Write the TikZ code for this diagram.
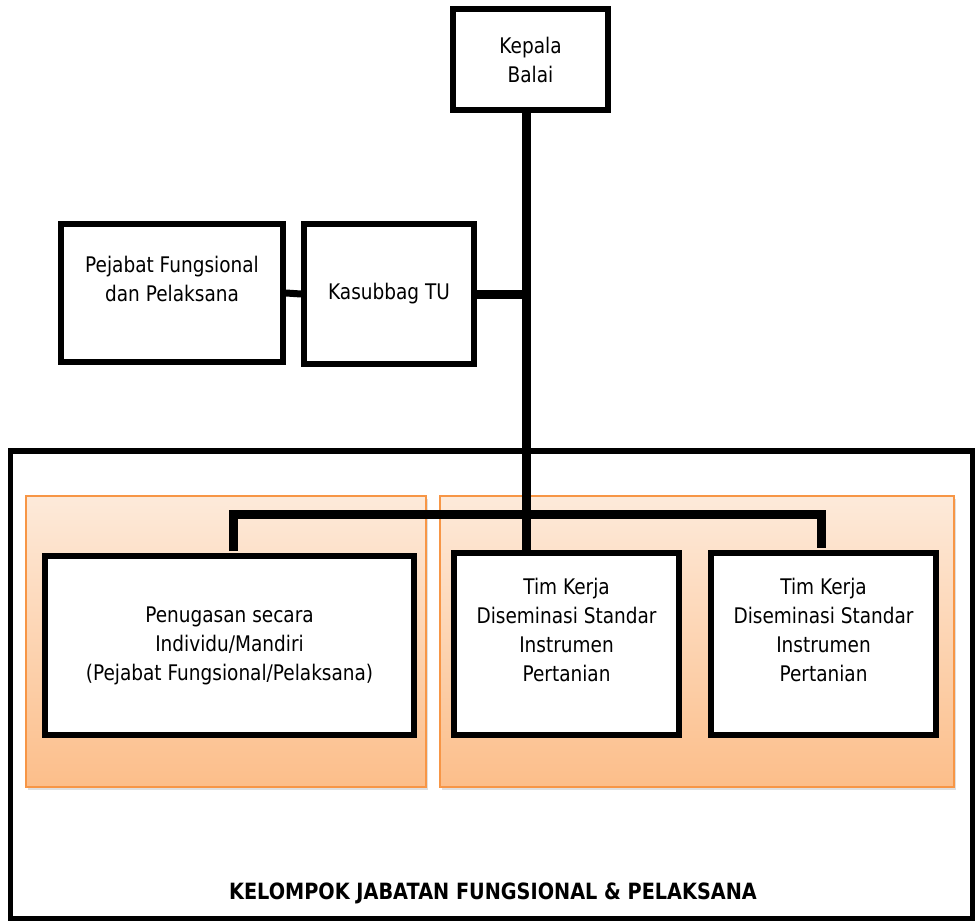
\documentclass[tikz,border=0pt]{standalone}
\usepackage{fontspec}
\setmainfont{DejaVu Sans}[FakeStretch=0.86]
\usetikzlibrary{shadows}
\definecolor{panelTop}{RGB}{253,234,218}
\definecolor{panelBot}{RGB}{252,190,138}
\definecolor{panelLine}{RGB}{247,150,70}
\tikzset{
  orgbox/.style={draw=black, line width=6pt, fill=white, rectangle, inner sep=0pt,
    drop shadow={shadow xshift=2pt, shadow yshift=-2pt, opacity=0.18}},
  boxtext/.style={align=center, inner sep=0pt, font=\fontsize{21.5}{29}\selectfont},
  panel/.style={draw=panelLine, line width=1.5pt, top color=panelTop, bottom color=panelBot,
    rectangle, inner sep=0pt,
    drop shadow={shadow xshift=2pt, shadow yshift=-3pt, opacity=0.25}},
  conn/.style={line width=9pt, line join=miter},
  thinconn/.style={line width=7pt}
}
\begin{document}
\begin{tikzpicture}[x=1pt,y=-1pt]
\useasboundingbox (0,0) rectangle (976,920);
% outer frame
\node[draw=black, line width=5.5pt, rectangle, inner sep=0pt, minimum width=962pt, minimum height=468pt] (frame) at (491.5,685) {};
% panels
\node[panel, minimum width=400pt, minimum height=291pt] (panelA) at (226,641.5) {};
\node[panel, minimum width=514pt, minimum height=291pt] (panelB) at (697,641.5) {};
% boxes
\node[orgbox, minimum width=155pt, minimum height=101pt] (kepala) at (530.5,59.5) {};
\node[boxtext] (kepalaT) at (530.5,59.5) {Kepala\\Balai};
\node[orgbox, minimum width=222pt, minimum height=138pt] (pej) at (172,293) {};
\node[boxtext] (pejT) at (172,279) {Pejabat Fungsional\\dan Pelaksana};
\node[orgbox, minimum width=170pt, minimum height=140pt] (kasub) at (389,294) {};
\node[boxtext] (kasubT) at (389,294) {Kasubbag TU};
\node[orgbox, minimum width=369pt, minimum height=179pt] (pen) at (229.5,645.5) {};
\node[boxtext] (penT) at (229.5,645.5) {Penugasan secara\\Individu/Mandiri\\(Pejabat Fungsional/Pelaksana)};
\node[orgbox, minimum width=225pt, minimum height=182pt] (tim1) at (566.5,644) {};
\node[boxtext] (tim1T) at (566.5,630) {Tim Kerja\\Diseminasi Standar\\Instrumen\\Pertanian};
\node[orgbox, minimum width=225pt, minimum height=182pt] (tim2) at (823.5,644) {};
\node[boxtext] (tim2T) at (823.5,630) {Tim Kerja\\Diseminasi Standar\\Instrumen\\Pertanian};
% title
\node[inner sep=0pt, font=\fontsize{22.4}{26}\selectfont\bfseries] (title) at (493,893) {KELOMPOK JABATAN FUNGSIONAL \& PELAKSANA};
% connectors
\coordinate (tx) at (526,0);
\coordinate (busL) at (233,514);
\coordinate (busR) at (821,514);
\draw[conn] (kepala.south -| tx) -- (tim1.north -| tx);
\draw[conn] (kasub.east) -- (kasub.east -| tx);
\draw[thinconn] (pej.east) -- (kasub.west);
\draw[conn] ([yshift=2pt]busL |- pen.north) -- (busL) -- (busR) -- ([yshift=2pt]busR |- tim2.north);
\end{tikzpicture}
\end{document}
